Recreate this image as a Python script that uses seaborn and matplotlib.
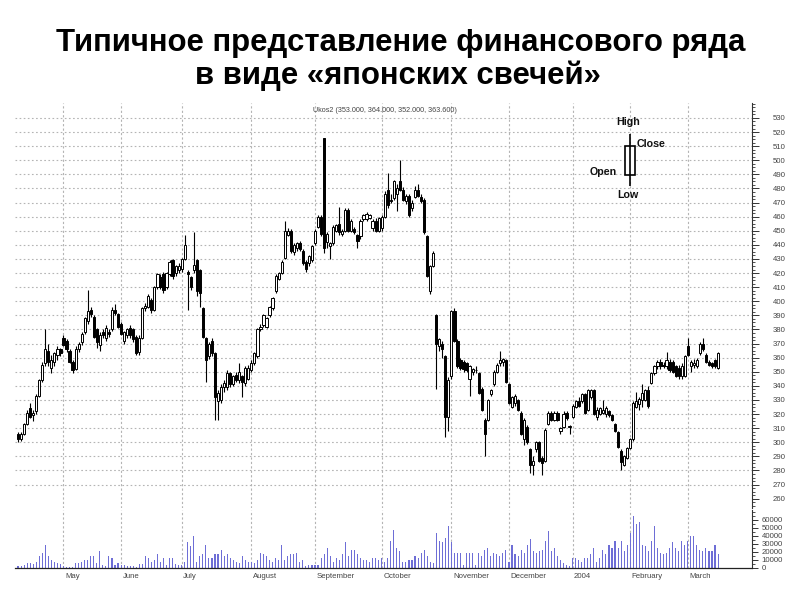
import numpy as np
import pandas as pd
import matplotlib
matplotlib.use("Agg")
import matplotlib.pyplot as plt
import matplotlib.transforms as mtransforms
from matplotlib.patches import Rectangle
from matplotlib.ticker import MultipleLocator, FixedLocator
import seaborn as sns

# ---------------- data ----------------
title_lines = ["Типичное представление финансового ряда", "в виде «японских свечей»"]
ticker_label = "Ukos2 (353.000, 364.000, 352.000, 363.600)"

start_date = "2003-04-10"
end_date = "2004-03-16"
holidays = ["2003-05-01", "2003-05-02", "2003-05-09", "2003-06-12", "2003-11-07",
            "2003-12-12", "2003-12-31", "2004-01-01", "2004-01-02", "2004-01-07",
            "2004-02-23", "2004-03-08"]

opens = [306,302,306,313,324,319,322,333,344,356,
         365,353,357,362,366,374,372,365,357,352,
         366,371,378,386,394,389,380,369,378,374,
         378,380,394,391,384,372,376,381,380,375,
         364,374,395,396,401,394,410,417,419,410,
         419,429,420,422,423,430,421,417,422,429,
         422,395,374,361,372,363,329,330,339,339,
         349,341,348,344,347,342,345,351,356,361,
         380,383,382,390,395,407,416,420,431,447,
         450,435,438,441,436,428,427,429,441,453,
         460,516,442,439,441,450,455,448,450,465,
         450,451,447,446,458,458,459,452,457,450,
         452,460,479,472,473,476,485,479,471,475,
         466,474,479,474,472,446,407,425,390,368,
         370,361,318,347,393,372,358,357,356,345,
         350,351,349,338,316,316,334,341,350,356,
         357,358,341,325,328,330,321,302,311,295,
         284,295,300,289,287,313,321,316,321,308,
         311,321,311,318,325,329,329,334,323,332,
         337,318,320,321,320,322,319,313,307,294,
         284,289,296,302,325,327,330,330,337,342,
         349,354,357,355,354,357,357,354,353,347,
         347,368,354,355,354,363,370,362,357,356,
         358,353]

highs = [307,307,314,323,328,323,334,345,357,380,
         370,362,364,368,367,376,373,366,358,368,
         371,378,389,408,396,390,381,378,380,383,
         380,396,398,392,385,379,381,383,381,376,
         376,396,399,405,402,411,420,419,421,421,
         429,430,426,427,431,447,422,418,449,430,
         423,396,375,371,374,364,337,341,344,351,
         350,348,350,356,348,354,355,358,364,381,
         384,391,389,397,403,419,421,429,457,452,
         451,441,442,443,437,429,433,440,451,461,
         461,516,449,442,454,455,467,451,466,466,
         458,453,448,458,462,463,462,458,459,460,
         461,478,491,476,486,483,500,481,476,476,
         472,482,483,476,473,447,426,436,391,374,
         372,362,346,394,395,373,360,358,357,355,
         353,354,350,339,317,331,338,351,356,365,
         360,359,342,333,334,331,322,317,312,296,
         290,301,301,290,310,322,322,322,322,311,
         322,322,312,327,330,332,335,335,338,338,
         338,325,325,330,326,323,320,314,308,295,
         291,297,303,329,336,332,341,338,340,350,
         355,358,359,357,364,359,358,355,355,356,
         362,374,358,359,360,371,374,363,358,357,
         359,364]

lows = [300,301,305,312,317,315,320,332,343,354,
        354,349,354,358,361,368,364,356,349,351,
        364,369,377,384,389,374,367,365,374,372,
        375,379,390,381,376,370,374,374,371,362,
        362,373,393,395,392,393,409,409,406,409,
        418,416,418,420,421,429,394,408,420,404,
        396,374,343,359,361,316,316,328,336,337,
        339,340,343,342,332,340,344,350,355,360,
        379,382,381,389,394,406,415,419,430,446,
        434,433,436,436,426,421,425,428,440,452,
        446,434,438,430,440,449,447,446,449,449,
        449,448,438,444,457,457,458,450,449,449,
        450,459,466,470,472,464,478,471,469,460,
        464,473,474,470,448,417,405,424,338,365,
        360,304,308,345,371,353,351,350,350,333,
        348,349,334,322,290,315,333,340,349,354,
        354,342,327,324,326,322,305,298,299,278,
        277,293,286,277,286,312,315,315,315,306,
        310,316,306,317,324,325,328,320,322,331,
        319,316,319,320,318,318,315,307,296,280,
        283,288,295,301,324,323,325,329,324,341,
        348,352,352,353,352,350,349,346,345,345,
        346,361,350,353,353,362,365,356,354,353,
        353,352]

closes = [302,306,313,321,318,321,333,344,355,366,
          357,358,363,366,363,369,366,357,351,366,
          370,377,388,393,391,375,371,376,376,381,
          377,394,392,382,377,378,380,376,373,363,
          374,395,397,404,394,410,419,410,408,420,
          428,418,425,425,430,440,419,410,426,407,
          406,375,358,370,363,332,335,339,342,349,
          341,347,344,350,343,353,353,356,363,380,
          382,390,388,396,402,418,420,428,450,450,
          436,440,441,437,427,423,432,439,450,460,
          448,438,448,441,453,454,449,450,465,450,
          457,449,443,457,461,462,461,457,450,459,
          460,476,468,471,485,480,479,472,475,461,
          470,479,475,471,449,418,425,434,370,373,
          366,318,344,393,372,354,353,352,351,354,
          352,351,335,323,306,330,337,350,355,358,
          359,343,328,332,333,323,306,316,300,284,
          287,300,287,285,309,321,316,321,316,310,
          320,317,311,326,329,326,334,321,337,337,
          320,323,324,323,324,319,316,308,297,286,
          290,296,302,328,329,331,335,337,326,349,
          354,357,354,354,358,351,350,347,347,354,
          361,362,357,356,358,370,366,357,355,354,
          354,363.6]

volume_thousands = [2,3,4,6,6,5,8,15,19,29,
                    15,10,8,6,5,2,1,1,1,6,
                    6,8,10,10,15,15,6,21,4,2,
                    15,13,4,6,4,4,2,2,2,1,
                    5,5,15,13,8,10,17,8,13,4,
                    13,13,5,4,4,8,32,27,40,8,
                    15,17,29,13,13,17,17,23,15,17,
                    13,10,8,6,15,10,8,8,6,10,
                    19,17,15,10,8,13,10,29,10,15,
                    17,17,19,8,10,2,4,4,4,4,
                    13,17,25,15,8,13,10,17,32,15,
                    23,23,17,13,10,10,8,13,13,10,
                    13,8,13,34,48,25,21,8,8,10,
                    10,15,13,19,23,15,8,6,44,34,
                    32,38,53,32,19,19,19,4,19,19,
                    19,4,19,15,23,25,15,19,17,15,
                    19,23,8,29,17,15,23,19,29,36,
                    21,19,21,23,34,46,21,25,15,10,
                    6,4,2,13,13,10,8,13,13,17,
                    25,8,13,23,17,29,25,34,25,34,
                    21,29,44,65,55,57,29,27,21,34,
                    53,25,19,17,19,25,32,25,21,34,
                    29,34,40,40,29,23,21,25,21,21,
                    29,17]

month_labels = {5: "May", 6: "June", 7: "July", 8: "August", 9: "September",
                10: "October", 11: "November", 12: "December", 1: "2004",
                2: "February", 3: "March"}
price_ticks = list(range(260, 531, 10))
grid_prices = list(range(270, 531, 10))
volume_ticks = [0, 10000, 20000, 30000, 40000, 50000, 60000]

# ---------------- style ----------------
sns.set_theme(style="white")
plt.rcParams['font.family'] = ['Liberation Sans', 'DejaVu Sans']

dates = pd.bdate_range(start_date, end_date)
dates = dates[~dates.isin(pd.to_datetime(holidays))]
df = pd.DataFrame({"date": dates, "open": opens, "high": highs, "low": lows,
                   "close": closes, "volume": np.array(volume_thousands) * 1000})
df["idx"] = np.arange(len(df))
n = len(df)

month_start = df.index[df["date"].dt.month != df["date"].dt.month.shift(1)][1:]
wk = df["date"].dt.isocalendar().week
week_start = list(df.index[wk != wk.shift(1)][1:])
future = pd.bdate_range(dates[-1] + pd.Timedelta(days=1), periods=12)
for k, d in enumerate(future):
    if d.weekday() == 0:
        week_start.append(n + k)

W, H = 800, 600
def frame(l, t, r, b):
    return [l / W, 1 - b / H, (r - l) / W, (b - t) / H]

fig = plt.figure(figsize=(8, 6), dpi=100)
fig.patch.set_facecolor("white")
axp = fig.add_axes(frame(15, 103, 752, 508))
axv = fig.add_axes(frame(15, 510, 752, 568), sharex=axp)

grid_col = "#b4b4b4"
xmin, xmax = -1, 242.2

# price grid
axp.hlines(grid_prices, xmin, xmax, colors=grid_col, linestyles=(0, (1.5, 2.2)), lw=0.8, zorder=0)
for m in month_start:
    axp.axvline(m, color=grid_col, ls=(0, (2, 2)), lw=0.8, zorder=0)
    axv.axvline(m, color=grid_col, ls=(0, (2, 2)), lw=0.8, zorder=0)

# candles
o = df["open"].to_numpy(float); c = df["close"].to_numpy(float)
up = c >= o
bottom = np.minimum(o, c)
height = np.maximum(np.abs(c - o), 0.6)
axp.vlines(df["idx"], df["low"], df["high"], color="black", lw=0.8, zorder=2)
axp.bar(df["idx"][up], height[up], bottom=bottom[up], width=0.72,
        facecolor="white", edgecolor="black", lw=0.7, zorder=3)
axp.bar(df["idx"][~up], height[~up], bottom=bottom[~up], width=0.72,
        facecolor="black", edgecolor="black", lw=0.7, zorder=3)

axp.set_xlim(xmin, xmax)
axp.set_ylim(253.4, 540.6)
for s in ["left", "top", "bottom"]:
    axp.spines[s].set_visible(False)
axp.spines["right"].set_color("#333333")
axp.spines["right"].set_linewidth(0.8)
axp.yaxis.tick_right()
axp.yaxis.set_major_locator(FixedLocator(price_ticks))
axp.yaxis.set_minor_locator(MultipleLocator(2.5))
axp.tick_params(axis="y", which="major", direction="out", length=5, width=0.7,
                colors="#333333", labelsize=5.6, pad=10, labelcolor="#444444")
axp.tick_params(axis="y", which="minor", direction="out", length=2.5, width=0.6, colors="#333333")
axp.tick_params(axis="x", which="both", length=0, labelbottom=False)
axp.set_xlabel(""); axp.set_ylabel("")

# volume
sns.barplot(data=df, x="idx", y="volume", native_scale=True, width=0.36,
            color="#6e6ed6", linewidth=0, errorbar=None,
            saturation=1, ax=axv, zorder=2)
for p in axv.patches:
    p.set_antialiased(False)
    p.set_snap(True)
axv.set_xlim(xmin, xmax)
axv.set_ylim(0, 72500)
for s in ["left", "top"]:
    axv.spines[s].set_visible(False)
axv.spines["right"].set_color("#333333")
axv.spines["bottom"].set_color("#222222")
axv.spines["right"].set_linewidth(0.8)
axv.spines["bottom"].set_linewidth(0.9)
axv.yaxis.tick_right()
axv.yaxis.set_major_locator(FixedLocator(volume_ticks))
axv.yaxis.set_minor_locator(MultipleLocator(5000))
axv.tick_params(axis="y", which="major", direction="out", length=4, width=0.7,
                colors="#333333", labelsize=5.6, pad=3, labelcolor="#444444")
axv.tick_params(axis="y", which="minor", direction="out", length=2, width=0.6, colors="#333333")
axv.xaxis.set_major_locator(FixedLocator(list(month_start)))
axv.xaxis.set_minor_locator(FixedLocator(week_start))
axv.tick_params(axis="x", which="major", direction="out", length=12, width=0.8,
                colors="#333333", labelbottom=False)
axv.tick_params(axis="x", which="minor", direction="inout", length=5, width=0.7, colors="#333333")
axv.set_xlabel(""); axv.set_ylabel("")

trans = mtransforms.blended_transform_factory(axv.transData, axv.transAxes)
for m in month_start:
    axv.text(m + 0.5, -0.09, month_labels[df.loc[m, "date"].month], transform=trans,
             ha="left", va="top", fontsize=5.6, color="#444444")

# overlay: title, ticker label, candle legend
axo = fig.add_axes([0, 0, 1, 1])
axo.set_xlim(0, W); axo.set_ylim(H, 0); axo.axis("off")
axo.text(401, 51, title_lines[0], ha="center", va="baseline", fontsize=22.4, weight="bold", color="black")
axo.text(398, 84, title_lines[1], ha="center", va="baseline", fontsize=22.4, weight="bold", color="black")
axo.text(385, 111, ticker_label, ha="center", va="center", fontsize=5.2, color="#444444")

axo.vlines(629.5, 134, 186, color="black", lw=1.2)
axo.add_patch(Rectangle((624.5, 146), 10.5, 29, facecolor="white", edgecolor="black", lw=1.2))
lkw = dict(fontsize=7.7, weight="bold", color="#111111", va="center")
axo.text(628, 122, "High", ha="center", **lkw)
axo.text(637, 144, "Close", ha="left", **lkw)
axo.text(617, 172, "Open", ha="right", **lkw)
axo.text(628, 195, "Low", ha="center", **lkw)

fig.savefig("out.png", dpi=100, facecolor="white")
